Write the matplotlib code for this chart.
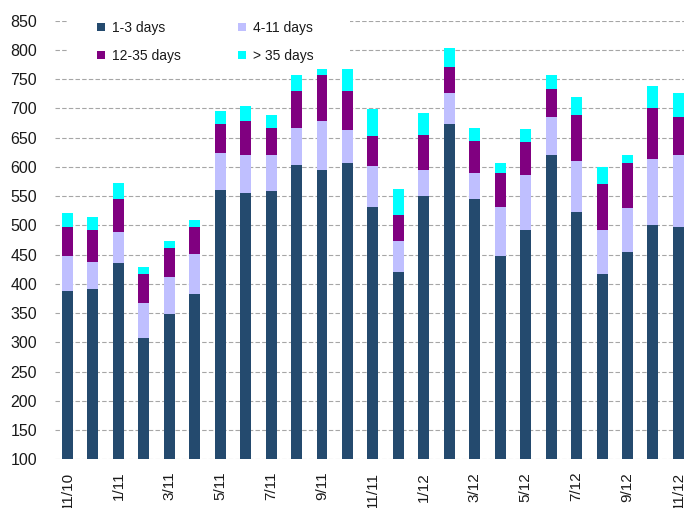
import matplotlib
matplotlib.use("Agg")
import matplotlib.pyplot as plt
from matplotlib.patches import Rectangle, Patch
import numpy as np

plt.rcParams['font.family'] = ['Liberation Sans', 'DejaVu Sans']

# Monthly observations, Nov 2010 - Nov 2012
months = ["11/10", "12/10", "1/11", "2/11", "3/11", "4/11", "5/11", "6/11",
          "7/11", "8/11", "9/11", "10/11", "11/11", "12/11", "1/12", "2/12",
          "3/12", "4/12", "5/12", "6/12", "7/12", "8/12", "9/12", "10/12",
          "11/12"]

days_1_3 = [388, 392, 435, 307, 348, 383, 561, 555, 558, 604, 595, 607, 532,
            420, 551, 673, 545, 448, 492, 620, 523, 417, 455, 501, 498]
days_4_11 = [60, 46, 53, 60, 63, 68, 62, 65, 62, 63, 84, 56, 70,
             53, 44, 53, 44, 84, 94, 65, 87, 75, 74, 112, 122]
days_12_35 = [50, 54, 57, 50, 50, 47, 50, 59, 47, 63, 78, 67, 50,
              44, 60, 44, 56, 57, 56, 48, 79, 78, 78, 88, 66]
days_over_35 = [23, 22, 28, 12, 12, 12, 23, 25, 21, 27, 10, 37, 47,
                46, 37, 34, 22, 18, 22, 24, 31, 29, 13, 37, 40]

series = [
    ("1-3 days", days_1_3, "#244A6E"),
    ("4-11 days", days_4_11, "#BFBFFF"),
    ("12-35 days", days_12_35, "#800080"),
    ("> 35 days", days_over_35, "#00FFFF"),
]

fig = plt.figure(figsize=(6.84, 5.08), dpi=100)
ax = fig.add_axes([55 / 684, 1 - 459.3 / 508, 1 - 55 / 684, (459.3 - 20.7) / 508])

x = np.arange(len(months))
bottom = np.zeros(len(months))
for name, vals, col in series:
    vals = np.asarray(vals, dtype=float)
    ax.bar(x, vals, width=0.43, bottom=bottom, color=col, label=name, zorder=2)
    bottom += vals

ax.set_ylim(100, 850)
ax.set_yticks(np.arange(100, 851, 50))
ax.set_xlim(-0.49, 24.22)
ax.set_xticks(x[::2])
ax.set_xticklabels(months[::2], rotation=90, va="top", ha="center")

ax.yaxis.grid(True, color="#A6A6A6", linestyle=(0, (4, 2)), linewidth=0.8, zorder=0)
ax.set_axisbelow(True)
for s in ax.spines.values():
    s.set_visible(False)
ax.tick_params(axis="y", length=0, pad=13, labelsize=11.5, labelcolor="#1a1a1a")
ax.tick_params(axis="x", length=0, pad=9, labelsize=11, labelcolor="#1a1a1a")

# white backing behind the legend block
ax.add_patch(Rectangle((67 / 684, 1 - 70 / 508), (350 - 67) / 684, 70 / 508,
                       transform=fig.transFigure, facecolor="white",
                       edgecolor="none", zorder=1.5, clip_on=False))

# legend laid out row-wise: (1-3, 4-11) on top, (12-35, >35) below
patches = {n: Patch(facecolor=c, edgecolor="none", label=n) for n, _, c in series}
order = ["1-3 days", "12-35 days", "4-11 days", "> 35 days"]
leg = ax.legend(handles=[patches[n] for n in order], ncol=2, loc="upper left",
                bbox_to_anchor=(97 / 684, 1 - 21 / 508),
                bbox_transform=fig.transFigure, frameon=False,
                fontsize=10, handlelength=0.55, handleheight=0.55,
                handletextpad=0.55, columnspacing=4.1, labelspacing=0.98,
                borderpad=0, borderaxespad=0)
for t in leg.get_texts():
    t.set_color("#1a1a1a")
leg.set_zorder(3)

fig.savefig("out.png", dpi=100)
